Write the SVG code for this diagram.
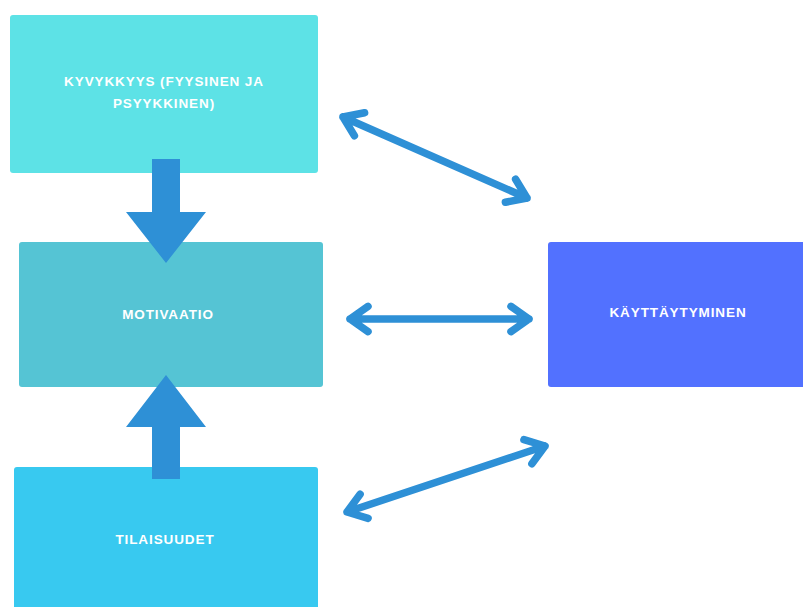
<svg xmlns="http://www.w3.org/2000/svg" width="803" height="607" viewBox="0 0 803 607">
<style>
.lbl{font-family:"Liberation Sans",Arial,sans-serif;font-weight:bold;font-size:13.5px;fill:#ffffff;text-anchor:middle;letter-spacing:0.9px}
.dbl{fill:none;stroke:#2e90d6;stroke-width:7.5;stroke-linecap:round;stroke-linejoin:round}
.blk{fill:#2e90d6}
</style>
<rect width="803" height="607" fill="#ffffff"/>
<g id="node-kyvykkyys">
<rect x="10" y="15" width="308" height="158" rx="3" fill="#5de2e6"/>
<text class="lbl" x="164" y="86">KYVYKKYYS (FYYSINEN JA</text>
<text class="lbl" x="164" y="108">PSYYKKINEN)</text>
</g>
<g id="node-motivaatio">
<rect x="19" y="242" width="304" height="145" rx="3" fill="#55c4d4"/>
<text class="lbl" x="168" y="319">MOTIVAATIO</text>
</g>
<g id="node-tilaisuudet">
<rect x="14" y="467" width="304" height="145" rx="3" fill="#38c9f0"/>
<text class="lbl" x="165" y="544">TILAISUUDET</text>
</g>
<g id="node-kayttaytyminen">
<rect x="548" y="242" width="260" height="145" rx="3" fill="#5271ff"/>
<text class="lbl" x="678" y="317">KÄYTTÄYTYMINEN</text>
</g>
<g id="connectors">
<path class="blk" d="M152,159 H180 V212 H206 L166,263 L126,212 H152 Z"/>
<path class="blk" d="M152,479 H180 V427 H206 L166,375 L126,427 H152 Z"/>
<path class="dbl" d="M343,117 L527,198 M364.6,112.7 L343,117 L354.4,135.8 M505.4,202.3 L527,198 L515.6,179.2"/>
<path class="dbl" d="M350,319 L529,319 M368,306.4 L350,319 L368,331.6 M511,306.4 L529,319 L511,331.6"/>
<path class="dbl" d="M347,512 L545,446 M368.1,518.3 L347,512 L360.1,494.3 M531.9,463.7 L545,446 L523.9,439.7"/>
</g>
</svg>
